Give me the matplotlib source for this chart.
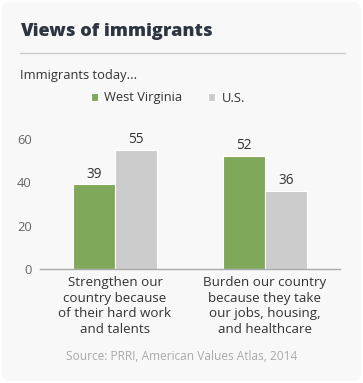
import matplotlib
matplotlib.use("Agg")
import matplotlib.pyplot as plt
from matplotlib.patches import FancyBboxPatch
from matplotlib.lines import Line2D
import numpy as np

categories = ["Strengthen our\ncountry because\nof their hard work\nand talents",
              "Burden our country\nbecause they take\nour jobs, housing,\nand healthcare"]
series_names = ["West Virginia", "U.S."]
wv_values = [39, 52]
us_values = [55, 36]
yticks = [0, 20, 40, 60]

W, H = 363, 383
fig = plt.figure(figsize=(W / 100, H / 100), dpi=100)
fig.patch.set_facecolor("white")
plt.rcParams['font.family'] = ['Open Sans', 'DejaVu Sans']

card = FancyBboxPatch((2 / W, 2 / H), (W - 4) / W, (H - 4) / H,
                      boxstyle="round,pad=0,rounding_size=0.02",
                      transform=fig.transFigure, facecolor="#f8f8f8",
                      edgecolor="none", zorder=-10)
fig.patches.append(card)

fig.text(20 / W, 1 - 31 / H, "Views of immigrants", fontsize=13.1, fontweight="heavy",
         color="#2d3540", ha="left", va="center")
fig.add_artist(Line2D([20 / W, 345 / W], [1 - 53 / H, 1 - 53 / H],
                      transform=fig.transFigure, color="#cccccc", lw=1))
fig.text(20 / W, 1 - 75 / H, "Immigrants today...", fontsize=9.3, color="#333333",
         ha="left", va="center")

ax = fig.add_axes([40 / W, 1 - 269 / H, 300 / W, 141 / H])
ax.set_facecolor("none")
x = np.arange(len(categories))
bw = 0.28
b1 = ax.bar(x - bw / 2, wv_values, bw, color="#80a85a", edgecolor="white", lw=0.8,
            label=series_names[0])
b2 = ax.bar(x + bw / 2, us_values, bw, color="#cccccc", edgecolor="white", lw=0.8,
            label=series_names[1])
for bars, vals in ((b1, wv_values), (b2, us_values)):
    for r, v in zip(bars, vals):
        ax.annotate(str(v), (r.get_x() + r.get_width() / 2, v), xytext=(0, 2.0),
                    textcoords="offset points", ha="center", va="bottom",
                    fontsize=9.8, color="#333333")

ax.set_xlim(-0.5, 1.5)
ax.set_ylim(0, 65)
ax.set_yticks(yticks)
ax.set_yticklabels([str(t) for t in yticks], fontsize=9.3, color="#666666")
ax.set_xticks(x)
ax.set_xticklabels(categories, fontsize=9.6, color="#333333", linespacing=1.27)
ax.tick_params(axis="x", length=0, pad=5)
ax.tick_params(axis="y", length=0, pad=6)
for s in ["top", "right", "left"]:
    ax.spines[s].set_visible(False)
ax.spines["bottom"].set_color("#aaaaaa")
ax.spines["bottom"].set_linewidth(1)

fig.legend(handles=[b1, b2], labels=series_names, loc="center",
           bbox_to_anchor=(168 / W, 1 - 98 / H), ncol=2, frameon=False,
           fontsize=9.3, handlelength=0.55, handleheight=0.55, handletextpad=0.5,
           columnspacing=2.0, labelcolor="#333333")

fig.text(182 / W, 1 - 356 / H, "Source: PRRI, American Values Atlas, 2014",
         fontsize=8.6, color="#aaaaaa", ha="center", va="center")

fig.savefig("out.png", dpi=100, facecolor=fig.get_facecolor())
